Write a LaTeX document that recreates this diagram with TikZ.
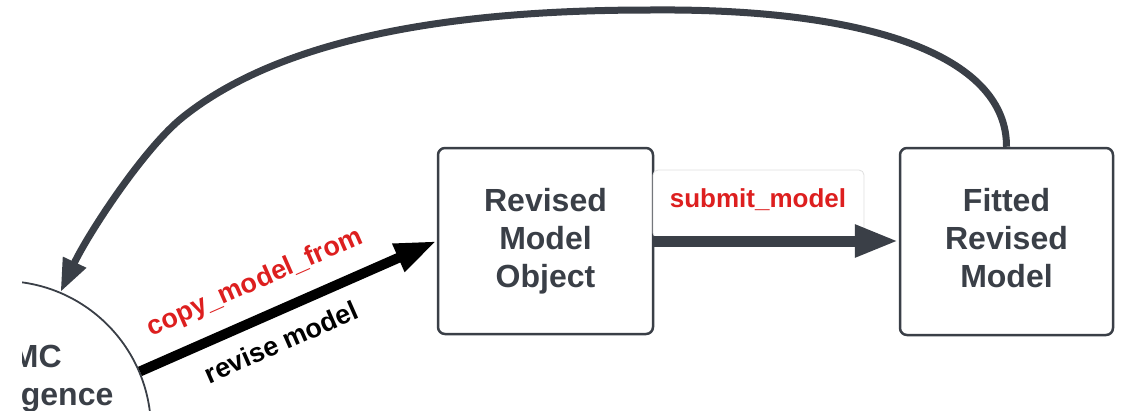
\documentclass[tikz,border=0pt]{standalone}
\usepackage{fontspec}
\setmainfont{Liberation Sans}
\usetikzlibrary{arrows.meta}
\definecolor{ink}{HTML}{3A3F47}
\definecolor{labelred}{HTML}{DD1F1F}
\begin{document}
\begin{tikzpicture}[x=1pt,y=-1pt,
  box/.style={draw=ink, line width=2.5pt, rounded corners=7pt, fill=white,
    align=center, text=ink, inner sep=0pt,
    font=\bfseries\fontsize{32}{38}\selectfont},
  edgelabel/.style={font=\bfseries\fontsize{27}{32}\selectfont, inner sep=0pt},
  flow/.style={draw=ink, line width=11pt, -{Triangle[length=44pt,width=30pt]}},
  revise/.style={draw=black, line width=10pt, -{Triangle[length=42pt,width=28pt]}},
  loopback/.style={draw=ink, line width=7pt, -{Triangle[length=33pt,width=24pt]}}]
\useasboundingbox (0,0) rectangle (1125,410);

% process boxes
\node[box, minimum width=215pt, minimum height=186pt] (rmo) at (545.5,241) {Revised\\Model\\Object};
\node[box, minimum width=213pt, minimum height=187pt] (frm) at (1006.5,241.5) {Fitted\\Revised\\Model\vphantom{j}};

% convergence state (partly outside the frame)
\begin{scope}
  \clip (22,0) rectangle (1125,410);
  \node[circle, draw=ink, line width=1.8pt, minimum size=298pt, inner sep=0pt] (mcmc) at (2,430) {};
  \node[text=ink, align=center, anchor=base, inner sep=0pt,
        font=\bfseries\fontsize{32}{38}\selectfont] (mctext) at (12,405) {MCMC\\Convergence};
\end{scope}

% submit_model label panel
\node[draw=gray!25, line width=0.8pt, fill=white, rounded corners=5pt,
      minimum width=211pt, minimum height=68pt, inner sep=0pt] (subpanel) at (758.5,204) {};
\node[edgelabel, text=labelred, font=\bfseries\fontsize{26}{30}\selectfont] (sublbl) at (758,200) {submit\_model};

% connectors
\draw[flow] (rmo.east) -- (rmo.east -| frm.west);
\draw[revise] (mcmc.23) -- (rmo.west)
  node[pos=.435, sloped, above=17pt, edgelabel, text=labelred] (cplbl) {copy\_model\_from}
  node[pos=.435, sloped, below=15pt, edgelabel, text=black] (rvlbl) {revise model};
\draw[loopback] (frm.north) .. controls (1007,60) and (880,8) .. (650,10)
  .. controls (480,10) and (292,30) .. (183,117)
  .. controls (144,148) and (88,234) .. (mcmc.67);
\end{tikzpicture}
\end{document}
